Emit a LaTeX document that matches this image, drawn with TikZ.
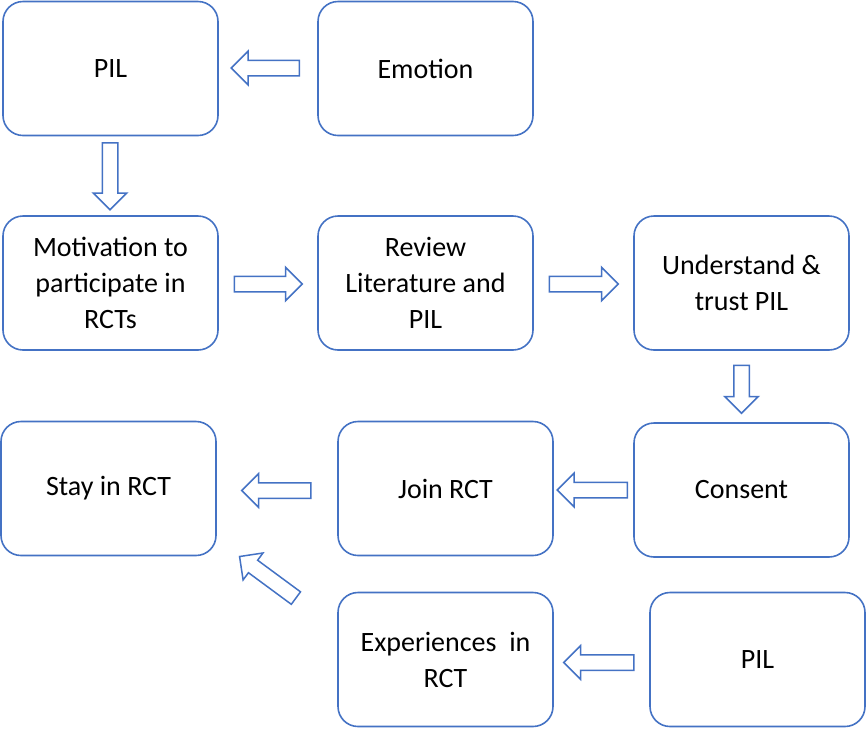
\documentclass[tikz,border=0pt]{standalone}
\usepackage{fontspec}
\setmainfont{Carlito}
\usetikzlibrary{shapes.arrows}
\definecolor{boxblue}{HTML}{4472C4}
\begin{document}
\begin{tikzpicture}[x=1pt,y=-1pt,
  box/.style={draw=boxblue,line width=1.6pt,rounded corners=20pt,fill=white,
    minimum width=215pt,minimum height=134pt,inner sep=0pt,align=center,
    font=\fontsize{28}{36}\selectfont},
  blockarrow/.style={single arrow,draw=boxblue,line width=1.5pt,fill=white,
    minimum height=68pt,inner xsep=0pt,inner ysep=7pt,
    single arrow head extend=9pt,single arrow tip angle=90,anchor=tail}]
\useasboundingbox (0,0) rectangle (866,729);
\node[box] (pil1) at (110.5,68.5) {PIL};
\node[box] (emo) at (425.5,68.5) {Emotion};
\node[box] (mot) at (110.5,283) {Motivation to\\participate in\\RCTs};
\node[box] (rev) at (425.5,283) {Review\\Literature and\\PIL};
\node[box] (und) at (741.5,283) {Understand \&\\trust PIL};
\node[box] (stay) at (108.5,488.5) {Stay in RCT};
\node[box] (join) at (445.5,488.5) {Join RCT};
\node[box] (cons) at (741.5,490) {Consent};
\node[box] (exp) at (445.5,659.5) {Experiences\ \ in\\RCT};
\node[box] (pil2) at (757.5,659.5) {PIL};
\node[blockarrow,rotate=180,minimum height=68pt] (a1) at (300,68) {};
\node[blockarrow,rotate=-90,minimum height=67pt] (a2) at (110,142) {};
\node[blockarrow,minimum height=68pt] (a3) at (233.5,284) {};
\node[blockarrow,minimum height=69pt] (a4) at (548.5,284) {};
\node[blockarrow,rotate=-90,minimum height=48pt] (a5) at (741.5,364.5) {};
\node[blockarrow,rotate=180,minimum height=70pt] (a6) at (628,490) {};
\node[blockarrow,rotate=180,minimum height=69pt] (a7) at (311.5,490.5) {};
\node[blockarrow,rotate=180,minimum height=70pt] (a8) at (634.5,662.5) {};
\node[blockarrow,rotate=143.6,minimum height=70pt] (a9) at (296.5,598.5) {};
\end{tikzpicture}
\end{document}
